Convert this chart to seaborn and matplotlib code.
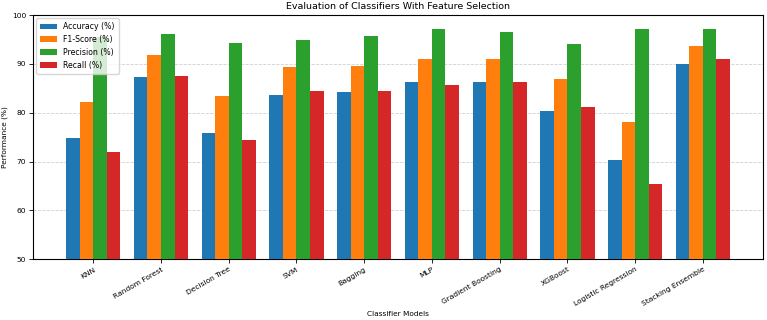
import numpy as np
import pandas as pd
import matplotlib
matplotlib.use("Agg")
import matplotlib.pyplot as plt
import seaborn as sns

# --- data ---
classifiers = ["KNN", "Random Forest", "Decision Tree", "SVM", "Bagging", "MLP",
               "Gradient Boosting", "XGBoost", "Logistic Regression", "Stacking Ensemble"]
accuracy = [74.8, 87.4, 75.8, 83.6, 84.2, 86.3, 86.3, 80.4, 70.4, 90.0]
f1_score = [82.1, 91.8, 83.4, 89.3, 89.6, 91.0, 91.1, 87.0, 78.1, 93.7]
precision = [95.6, 96.1, 94.3, 94.9, 95.7, 97.1, 96.5, 94.0, 97.1, 97.2]
recall = [72.0, 87.6, 74.4, 84.4, 84.4, 85.7, 86.3, 81.1, 65.5, 91.0]

metric_names = ["Accuracy (%)", "F1-Score (%)", "Precision (%)", "Recall (%)"]

df = pd.DataFrame({
    "Classifier": classifiers * 4,
    "Metric": np.repeat(metric_names, len(classifiers)),
    "Value": accuracy + f1_score + precision + recall,
})

palette = ["#1f77b4", "#ff7f0e", "#2ca02c", "#d62728"]

fig = plt.figure(figsize=(7.67, 3.2), dpi=100)
ax = fig.add_axes([0.043, 0.19, 0.952, 0.763])

sns.barplot(data=df, x="Classifier", y="Value", hue="Metric", order=classifiers,
            hue_order=metric_names, palette=palette, saturation=1, width=0.8,
            edgecolor="none", ax=ax, zorder=3)

ax.set_ylim(50, 100)
ax.set_xlim(-0.89, len(classifiers) - 1 + 0.89)
ax.grid(axis="y", linestyle="--", alpha=0.6, linewidth=0.6, zorder=0)
ax.set_axisbelow(True)

ax.set_title("Evaluation of Classifiers With Feature Selection", fontsize=6.8, pad=4)
ax.set_xlabel("Classifier Models", fontsize=5.3, labelpad=3)
ax.set_ylabel("Performance (%)", fontsize=5.3, labelpad=3)
ax.tick_params(axis="both", labelsize=5.4, length=3, width=0.6, pad=2)
plt.setp(ax.get_xticklabels(), rotation=30, ha="right", rotation_mode="anchor")
for s in ax.spines.values():
    s.set_linewidth(0.8)

ax.legend(loc="upper left", fontsize=5.6, framealpha=0.8, borderpad=0.5,
          handlelength=2.2, labelspacing=0.5, borderaxespad=0.4)

fig.savefig("out.png", dpi=100)
